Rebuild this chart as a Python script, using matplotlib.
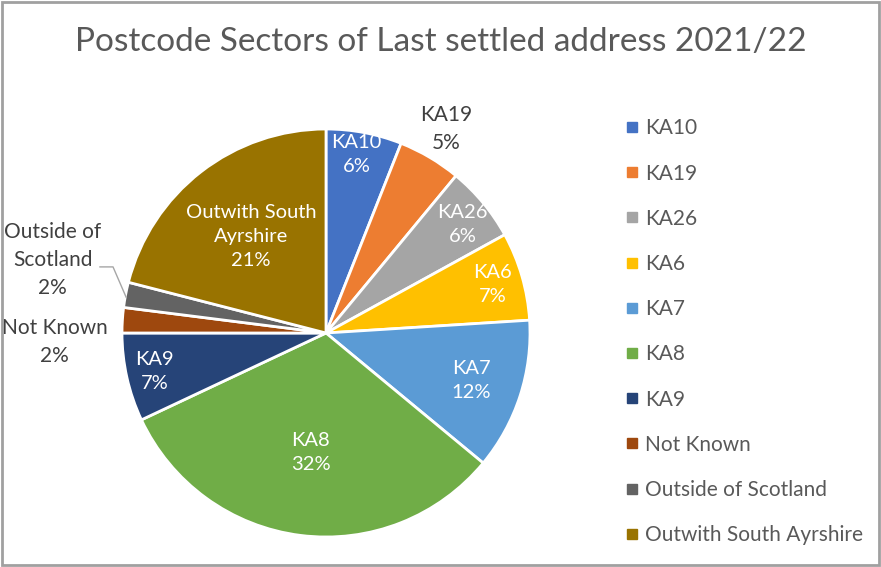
import numpy as np
import matplotlib
matplotlib.use('Agg')
import matplotlib.pyplot as plt
from matplotlib.patches import Rectangle

plt.rcParams['font.family'] = ['Lato', 'DejaVu Sans']

# Data
labels = ['KA10', 'KA19', 'KA26', 'KA6', 'KA7', 'KA8', 'KA9',
          'Not Known', 'Outside of Scotland', 'Outwith South Ayrshire']
pct = [6, 5, 6, 7, 12, 32, 7, 2, 2, 21]
colors = ['#4472C4', '#ED7D31', '#A5A5A5', '#FFC000', '#5B9BD5',
          '#70AD47', '#264478', '#9E480E', '#636363', '#997300']
# label text as shown on the chart (line breaks as in the picture)
label_text = ['KA10', 'KA19', 'KA26', 'KA6', 'KA7', 'KA8', 'KA9',
              'Not Known', 'Outside of\nScotland', 'Outwith South\nAyrshire']
# radial position of each data label (fraction of radius), None = placed by hand
label_r = [None, 1.16, None, 0.85, 0.75, 0.59, 0.86, None, None, 0.60]
inside = [True, False, True, True, True, True, True, False, False, True]
# hand placed labels (radius units)
manual_pos = {0: (0.15, 0.875), 2: (0.67, 0.53),
              7: (-1.33, -0.045), 8: (-1.34, 0.36)}

W, H = 881, 567
fig = plt.figure(figsize=(W / 100, H / 100), dpi=100)

cx, cy, R = 326, 333, 204
ax = fig.add_axes([(cx - R) / W, (H - cy - R) / H, 2 * R / W, 2 * R / H])
wedges, _ = ax.pie(pct, colors=colors, startangle=90, counterclock=False,
                   radius=1, wedgeprops=dict(edgecolor='white', linewidth=2))
ax.set_xlim(-1, 1)
ax.set_ylim(-1, 1)
ax.set_aspect('equal')
ax.axis('off')

for i, (w, txt, p, r, ins) in enumerate(zip(wedges, label_text, pct, label_r, inside)):
    if i in manual_pos:
        x, y = manual_pos[i]
    else:
        ang = np.deg2rad((w.theta1 + w.theta2) / 2)
        x, y = r * np.cos(ang), r * np.sin(ang)
    ax.text(x, y, f'{txt}\n{p}%', ha='center', va='center',
            fontsize=14.5 if ins else 15,
            color='white' if ins else '#404040', linespacing=1.5,
            clip_on=False)

# leader line for "Outside of Scotland"
ax.plot([-1.108, -1.044, -0.98], [0.324, 0.324, 0.176],
        color='#a6a6a6', lw=1, clip_on=False)

fig.text(0.5, 1 - 42 / H, 'Postcode Sectors of Last settled address 2021/22',
         ha='center', va='center', fontsize=24, color='#595959')

handles = [plt.Line2D([], [], marker='s', linestyle='none', markersize=7,
                      markerfacecolor=c, markeredgecolor=c) for c in colors]
fig.legend(handles, labels, loc='upper left', bbox_to_anchor=(618 / W, 1 - 110 / H),
           frameon=False, fontsize=15, labelcolor='#595959', labelspacing=1.21,
           handlelength=0.5, handletextpad=0.4, borderaxespad=0)

fig.patches.append(Rectangle((2 / W, 2 / H), 1 - 4 / W, 1 - 4 / H, transform=fig.transFigure,
                             fill=False, edgecolor='#a0a0a0', linewidth=2))

plt.savefig('out.png', dpi=100)
